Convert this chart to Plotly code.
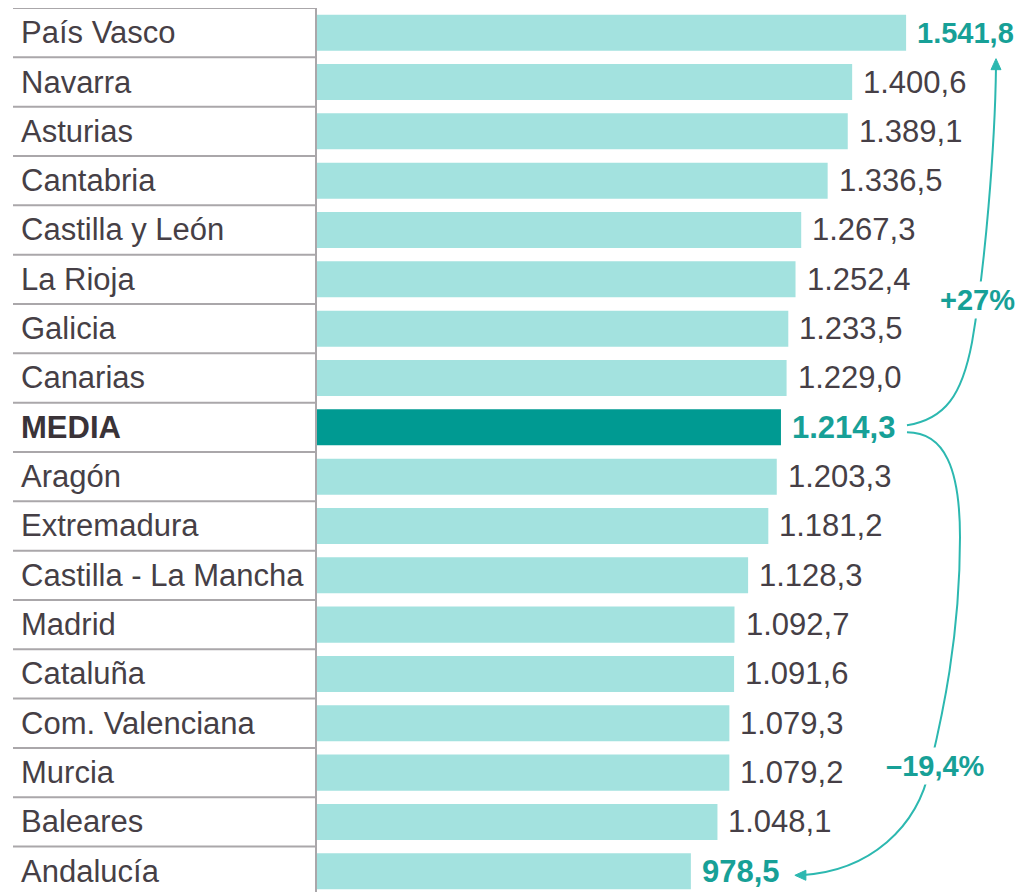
import plotly.graph_objects as go

# ---- data ----
regions = ["País Vasco", "Navarra", "Asturias", "Cantabria", "Castilla y León", "La Rioja",
           "Galicia", "Canarias", "MEDIA", "Aragón", "Extremadura", "Castilla - La Mancha",
           "Madrid", "Cataluña", "Com. Valenciana", "Murcia", "Baleares", "Andalucía"]
values = [1541.8, 1400.6, 1389.1, 1336.5, 1267.3, 1252.4, 1233.5, 1229.0, 1214.3,
          1203.3, 1181.2, 1128.3, 1092.7, 1091.6, 1079.3, 1079.2, 1048.1, 978.5]
highlight_value = {"País Vasco", "MEDIA", "Andalucía"}
avg_name = "MEDIA"
up_label = "+27%"
down_label = "\u201319,4%"

# ---- styles ----
OFF = 8                      # browser body margin
W, H = 1025 - OFF, 892 - OFF
L, T = 317 - OFF, 0
PW, PH = W - L, H - T
X_MAX = 1853
Y_RANGE = [17.42, -0.5]
FONT = "Liberation Sans, Arial, sans-serif"
FS = 31
LIGHT = "#a3e2df"
DARK = "#009a92"
TEAL_TXT = "#17a097"
LINE_TEAL = "#2cb8b0"
GRAY_TXT = "#463f46"
GRID = "#aaa7aa"


def fmt_es(v):
    s = f"{v:,.1f}"
    return s.replace(",", "X").replace(".", ",").replace("X", ".")


# page pixel -> paper coords
def pxx(px):
    return (px - OFF - L) / PW


def pxy(py):
    return 1 - (py - OFF - T) / PH


def row_py(i):
    # page pixel y of a row index, from the y-axis range
    return OFF + T + (i - Y_RANGE[1]) / (Y_RANGE[0] - Y_RANGE[1]) * PH


def val_px(v):
    return OFF + L + v / X_MAX * PW


colors = [DARK if r == avg_name else LIGHT for r in regions]

fig = go.Figure(go.Bar(
    x=values, y=regions, orientation="h",
    marker=dict(color=colors, line=dict(width=0)),
    width=0.73, hoverinfo="skip",
))

annotations = []
shapes = []

# row labels and value labels
for i, (r, v) in enumerate(zip(regions, values)):
    bold = r == avg_name
    annotations.append(dict(
        x=pxx(19), xref="paper", y=r, yref="y", xanchor="left", yanchor="middle",
        text=f"<b>{r}</b>" if bold else r, showarrow=False,
        font=dict(family=FONT, size=FS, color="#3a3338" if bold else GRAY_TXT),
    ))
    hl = r in highlight_value
    size = FS
    if i == 0:
        size = 29          # keep the widest label inside the visible page
    annotations.append(dict(
        x=v, xref="x", y=r, yref="y", xanchor="left", yanchor="middle", xshift=9,
        text=f"<b>{fmt_es(v)}</b>" if hl else fmt_es(v), showarrow=False,
        font=dict(family=FONT, size=size, color=TEAL_TXT if hl else GRAY_TXT),
    ))

# table lines
for k in range(len(regions)):
    shapes.append(dict(type="line", xref="paper", yref="y",
                       x0=pxx(13), x1=pxx(316), y0=k - 0.5, y1=k - 0.5,
                       line=dict(color=GRID, width=2)))
shapes.append(dict(type="line", xref="paper", yref="paper",
                   x0=pxx(316), x1=pxx(316), y0=0, y1=1,
                   line=dict(color=GRID, width=2)))

# brace arrows
i_avg = regions.index(avg_name)
i_top = 0
i_bot = len(regions) - 1
y_avg = row_py(i_avg)
x_start = val_px(values[i_avg]) + 126
top_tip = (996, row_py(i_top) + 26)
bot_tip = (val_px(values[i_bot]) + 104, row_py(i_bot) + 4)


def P(x, y):
    return f"{pxx(x):.5f},{pxy(y):.5f}"


up_path = (f"M {P(x_start, y_avg - 2)} C {P(945, y_avg - 8)} {P(962, y_avg - 32)} {P(972, y_avg - 85)} "
           f"C {P(985, y_avg - 160)} {P(995, y_avg - 280)} {P(top_tip[0], top_tip[1] + 8)}")
down_path = (f"M {P(x_start, y_avg + 5)} C {P(945, y_avg + 5)} {P(960, y_avg + 42)} {P(960, y_avg + 110)} "
             f"C {P(960, y_avg + 210)} {P(942, y_avg + 290)} {P(930, y_avg + 340)} "
             f"C {P(918, y_avg + 400)} {P(870, bot_tip[1] - 4)} {P(bot_tip[0] + 6, bot_tip[1])}")
for p in (up_path, down_path):
    shapes.append(dict(type="path", xref="paper", yref="paper", path=p,
                       line=dict(color=LINE_TEAL, width=2)))

tx, ty = top_tip
shapes.append(dict(type="path", xref="paper", yref="paper",
                   path=f"M {P(tx, ty)} L {P(tx - 5, ty + 11)} L {P(tx + 5, ty + 11)} Z",
                   fillcolor=LINE_TEAL, line=dict(color=LINE_TEAL, width=1)))
bx, by = bot_tip
shapes.append(dict(type="path", xref="paper", yref="paper",
                   path=f"M {P(bx, by)} L {P(bx + 11, by - 5)} L {P(bx + 11, by + 5)} Z",
                   fillcolor=LINE_TEAL, line=dict(color=LINE_TEAL, width=1)))

annotations.append(dict(x=pxx(977), y=pxy(300), xref="paper", yref="paper",
                        text=f"<b>{up_label}</b>", showarrow=False, bgcolor="white",
                        xanchor="center", yanchor="middle", borderpad=2,
                        font=dict(family=FONT, size=29, color=TEAL_TXT)))
annotations.append(dict(x=pxx(935), y=pxy(766), xref="paper", yref="paper",
                        text=f"<b>{down_label}</b>", showarrow=False, bgcolor="white",
                        xanchor="center", yanchor="middle", borderpad=2,
                        font=dict(family=FONT, size=29, color=TEAL_TXT)))

fig.update_layout(
    width=W, height=H,
    margin=dict(l=L, r=0, t=T, b=0, pad=0),
    paper_bgcolor="white", plot_bgcolor="white",
    showlegend=False, bargap=0.27,
    xaxis=dict(range=[0, X_MAX], visible=False, fixedrange=True),
    yaxis=dict(range=Y_RANGE, type="category", categoryorder="array", categoryarray=regions,
               visible=False, fixedrange=True),
    annotations=annotations, shapes=shapes,
)

fig.write_html("out.html", config={"displayModeBar": False})
